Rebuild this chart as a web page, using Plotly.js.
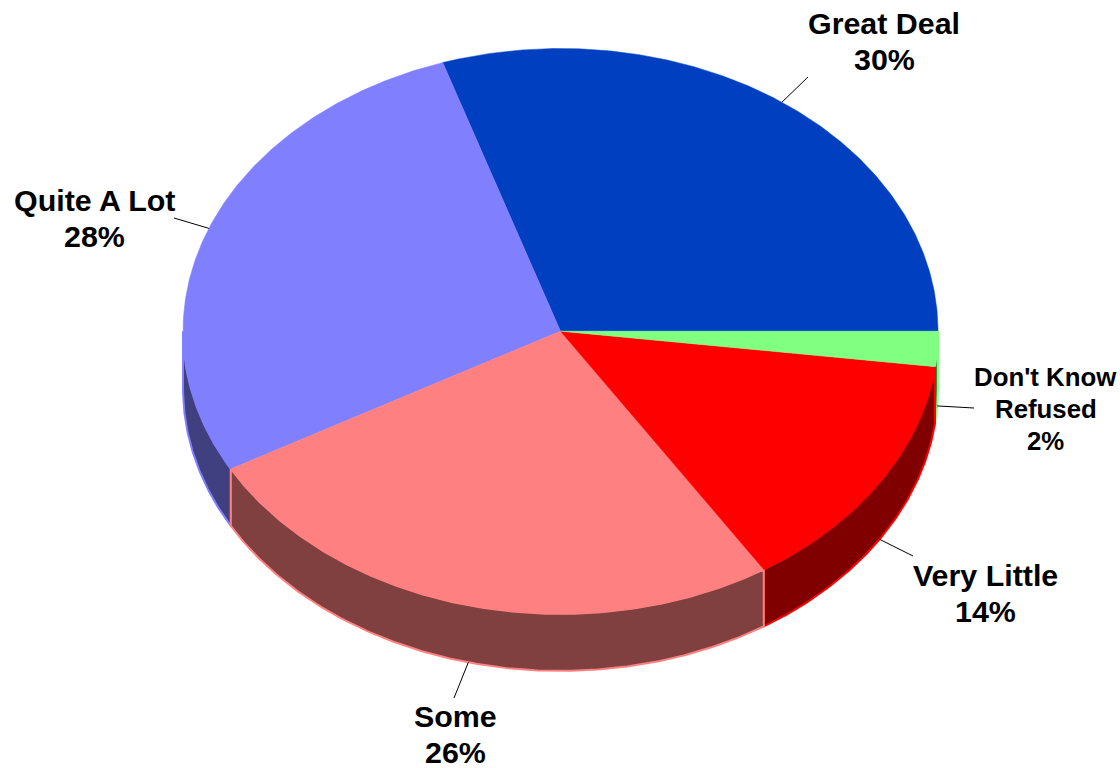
<!DOCTYPE html>
<html>
<head>
<meta charset="utf-8">
<script src="https://cdn.plot.ly/plotly-3.0.1.min.js"></script>
<style>html,body{margin:0;padding:0;background:#fff}#chart{width:1120px;height:768px}</style>
</head>
<body>
<div id="chart"></div>
<script>
const categories = ["Great Deal", "Quite A Lot", "Some", "Very Little", "Don't Know Refused"];
const values = [30.05, 28.05, 25.95, 13.95, 2];
const labelLines = [["Great Deal", "30%"], ["Quite A Lot", "28%"], ["Some", "26%"], ["Very Little", "14%"], ["Don't Know", "Refused", "2%"]];
const topColors = ["#0040c0", "#8080ff", "#ff8080", "#ff0000", "#80ff80"];
const wallColors = ["#002060", "#404080", "#804040", "#800000", "#408040"];

// Pie geometry in the axis units (axes span the page 1:1)
const cx = 560.5, cy = 331.2, rx = 377.5, ry = 282.7, depth = 57;
const labelX = [884, 94.5, 455, 985.5, 1045.5];
const labelY = [[23, 59], [199.5, 235.5], [715.5, 752], [574.5, 611], [376.5, 408.5, 440.5]];
const labelSize = [30.4, 30.4, 30.4, 30.4, 25.8];
const leaderEnd = [[808, 77], [174, 218], [454, 698], [913, 556], [974, 408]];

const total = values.reduce((a, b) => a + b, 0);
let running = 0;
const slices = values.map((v, i) => {
  const a0 = running / total * 360;
  running += v;
  return { i, a0, a1: running / total * 360 };
});
const px = a => cx + rx * Math.cos(a * Math.PI / 180);
const py = (a, d) => cy - ry * Math.sin(a * Math.PI / 180) + d;
function arc(a0, a1, d) {
  const xs = [], ys = [], n = Math.max(2, Math.ceil(Math.abs(a1 - a0) * 2));
  for (let k = 0; k <= n; k++) {
    const a = a0 + (a1 - a0) * k / n;
    xs.push(px(a)); ys.push(py(a, d));
  }
  return [xs, ys];
}
function wall(s) {
  const a0 = Math.max(s.a0, 180), a1 = Math.min(s.a1, 360);
  const [tx, ty] = arc(a0, a1, 0), [bx, by] = arc(a1, a0, depth);
  return {
    x: tx.concat(bx, [tx[0]]), y: ty.concat(by, [ty[0]]),
    type: "scatter", mode: "lines", fill: "toself", fillcolor: wallColors[s.i],
    line: { color: topColors[s.i], width: 2 }, hoverinfo: "skip", showlegend: false
  };
}
function face(s) {
  const [ax, ay] = arc(s.a0, s.a1, 0);
  return {
    x: [cx].concat(ax, [cx]), y: [cy].concat(ay, [cy]),
    type: "scatter", mode: "lines", fill: "toself", fillcolor: topColors[s.i],
    line: { color: topColors[s.i], width: 0.5 }, name: categories[s.i], hoverinfo: "skip", showlegend: false
  };
}
const wallOrder = [1, 4, 3, 2].map(i => slices[i]).filter(s => s.a1 > 180);
const traces = wallOrder.map(wall).concat(slices.map(face));

const annotations = [], shapes = [];
slices.forEach(s => {
  labelLines[s.i].forEach((text, j) => annotations.push({
    x: labelX[s.i], y: labelY[s.i][j], xref: "x", yref: "y", text, showarrow: false,
    xanchor: "center", yanchor: "middle",
    font: { family: "Liberation Sans, Arial, sans-serif", size: labelSize[s.i], color: "#000", weight: 700 }
  }));
  const mid = (s.a0 + s.a1) / 2, d = mid > 180 ? depth : 0;
  shapes.push({
    type: "line", xref: "x", yref: "y", x0: px(mid), y0: py(mid, d),
    x1: leaderEnd[s.i][0], y1: leaderEnd[s.i][1], line: { color: "#000", width: 1 }
  });
});

Plotly.newPlot("chart", traces, {
  width: 1120, height: 768, margin: { l: 0, r: 0, t: 0, b: 0 },
  paper_bgcolor: "#fff", plot_bgcolor: "#fff", showlegend: false,
  xaxis: { range: [0, 1120], visible: false, fixedrange: true },
  yaxis: { range: [768, 0], visible: false, fixedrange: true },
  annotations, shapes
}, { displayModeBar: false, staticPlot: true });
</script>
</body>
</html>
